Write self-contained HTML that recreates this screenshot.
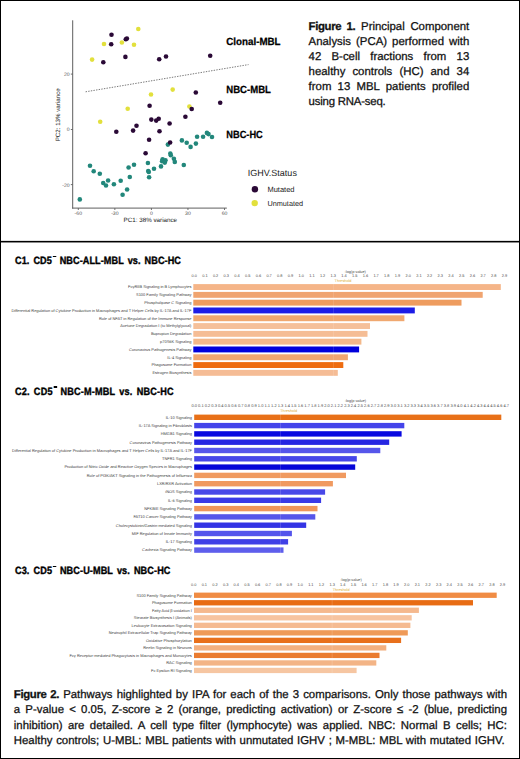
<!DOCTYPE html>
<html><head><meta charset="utf-8"><style>
*{margin:0;padding:0;box-sizing:border-box}
html,body{width:520px;height:759px;background:#fff;overflow:hidden}
body{position:relative;font-family:"Liberation Sans", sans-serif;color:#111;text-rendering:geometricPrecision}
.abs{position:absolute}
svg text{font-family:"Liberation Sans", sans-serif;text-rendering:geometricPrecision}
.frame{position:absolute;left:0;top:0;width:520px;height:759px;border:1px solid #000}
.sep{position:absolute;left:0;top:240px;width:520px;height:3px;background:linear-gradient(#e0e0e0 0,#e0e0e0 1px,#000 1px,#000 2px,#8a8a8a 2px,#8a8a8a 3px)}
.para{position:absolute;font-size:11.4px;line-height:15.1px;color:#111;-webkit-text-stroke:0.28px #111}
.para .l{display:block;text-align:justify;text-align-last:justify;white-space:normal}
.para .l.last{text-align-last:left}
.para b{font-size:11.4px;letter-spacing:-0.35px}
.hd{position:absolute;left:14.8px;font-size:10.6px;font-weight:bold;line-height:12px;white-space:nowrap;color:#000;-webkit-text-stroke:0.4px #000;word-spacing:1.6px;transform:scaleX(0.86);transform-origin:0 0}
.hd .m{display:inline-block;width:3.6px;height:1.3px;background:#000;vertical-align:top;margin:0.2px 4.4px 0 1.1px}
</style></head>
<body>
<svg class="abs" style="left:0;top:0" width="520" height="240" viewBox="0 0 520 240">
<line x1="72.7" y1="20.3" x2="72.7" y2="208.6" stroke="#5e5e5e" stroke-width="1"/>
<line x1="72.2" y1="208.1" x2="226.8" y2="208.1" stroke="#5e5e5e" stroke-width="1"/>
<line x1="70.8" y1="74.1" x2="72.7" y2="74.1" stroke="#5e5e5e" stroke-width="0.9"/>
<text x="69.6" y="76.0" font-size="5.1" fill="#555" text-anchor="end">20</text>
<line x1="70.8" y1="129.5" x2="72.7" y2="129.5" stroke="#5e5e5e" stroke-width="0.9"/>
<text x="69.6" y="131.4" font-size="5.1" fill="#555" text-anchor="end">0</text>
<line x1="70.8" y1="184.6" x2="72.7" y2="184.6" stroke="#5e5e5e" stroke-width="0.9"/>
<text x="69.6" y="186.5" font-size="5.1" fill="#555" text-anchor="end">-20</text>
<line x1="78.3" y1="208.1" x2="78.3" y2="210.0" stroke="#5e5e5e" stroke-width="0.9"/>
<text x="78.3" y="215.20000000000002" font-size="5.1" fill="#555" text-anchor="middle">-60</text>
<line x1="114.85" y1="208.1" x2="114.85" y2="210.0" stroke="#5e5e5e" stroke-width="0.9"/>
<text x="114.85" y="215.20000000000002" font-size="5.1" fill="#555" text-anchor="middle">-30</text>
<line x1="151.4" y1="208.1" x2="151.4" y2="210.0" stroke="#5e5e5e" stroke-width="0.9"/>
<text x="151.4" y="215.20000000000002" font-size="5.1" fill="#555" text-anchor="middle">0</text>
<line x1="187.95" y1="208.1" x2="187.95" y2="210.0" stroke="#5e5e5e" stroke-width="0.9"/>
<text x="187.95" y="215.20000000000002" font-size="5.1" fill="#555" text-anchor="middle">30</text>
<line x1="224.5" y1="208.1" x2="224.5" y2="210.0" stroke="#5e5e5e" stroke-width="0.9"/>
<text x="224.5" y="215.20000000000002" font-size="5.1" fill="#555" text-anchor="middle">60</text>
<text x="123.6" y="222.2" font-size="6.25" fill="#1a1a1a">PC1: 38% variance</text>
<text transform="translate(60.0,141.3) rotate(-90)" x="0" y="0" font-size="6.2" fill="#222">PC2: 13% variance</text>
<line x1="85.6" y1="91.8" x2="248.5" y2="64.6" stroke="#6a6a6a" stroke-width="0.9" stroke-dasharray="1.4 1.25"/>
<circle cx="90" cy="165.7" r="2.3" fill="#22877b"/>
<circle cx="93.7" cy="171.3" r="2.3" fill="#22877b"/>
<circle cx="99.8" cy="173.7" r="2.3" fill="#22877b"/>
<circle cx="103.2" cy="183" r="2.3" fill="#22877b"/>
<circle cx="106" cy="185.5" r="2.3" fill="#22877b"/>
<circle cx="108.1" cy="180.5" r="2.3" fill="#22877b"/>
<circle cx="113.9" cy="184.2" r="2.3" fill="#22877b"/>
<circle cx="120.7" cy="180.8" r="2.3" fill="#22877b"/>
<circle cx="128.6" cy="167.5" r="2.3" fill="#22877b"/>
<circle cx="134" cy="164.7" r="2.3" fill="#22877b"/>
<circle cx="129.8" cy="177" r="2.3" fill="#22877b"/>
<circle cx="127.1" cy="189.5" r="2.3" fill="#22877b"/>
<circle cx="122.6" cy="194.7" r="2.3" fill="#22877b"/>
<circle cx="79.8" cy="199.4" r="2.3" fill="#22877b"/>
<circle cx="147.9" cy="163" r="2.3" fill="#22877b"/>
<circle cx="148.2" cy="171" r="2.3" fill="#22877b"/>
<circle cx="148.8" cy="172" r="2.3" fill="#22877b"/>
<circle cx="154" cy="168.7" r="2.3" fill="#22877b"/>
<circle cx="149.1" cy="177.2" r="2.3" fill="#22877b"/>
<circle cx="161" cy="166.4" r="2.3" fill="#22877b"/>
<circle cx="162.6" cy="159.2" r="2.3" fill="#22877b"/>
<circle cx="165.5" cy="160.2" r="2.3" fill="#22877b"/>
<circle cx="162.1" cy="161.3" r="2.3" fill="#22877b"/>
<circle cx="164.8" cy="162.6" r="2.3" fill="#22877b"/>
<circle cx="170.3" cy="153.5" r="2.3" fill="#22877b"/>
<circle cx="170.8" cy="155.2" r="2.3" fill="#22877b"/>
<circle cx="173.9" cy="158.8" r="2.3" fill="#22877b"/>
<circle cx="174.8" cy="161.9" r="2.3" fill="#22877b"/>
<circle cx="183.8" cy="165" r="2.3" fill="#22877b"/>
<circle cx="167.9" cy="144.6" r="2.3" fill="#22877b"/>
<circle cx="181.9" cy="140.4" r="2.3" fill="#22877b"/>
<circle cx="186.7" cy="142.8" r="2.3" fill="#22877b"/>
<circle cx="190.6" cy="146.9" r="2.3" fill="#22877b"/>
<circle cx="195.9" cy="143.6" r="2.3" fill="#22877b"/>
<circle cx="197.1" cy="136.8" r="2.3" fill="#22877b"/>
<circle cx="203.1" cy="136.8" r="2.3" fill="#22877b"/>
<circle cx="206.9" cy="132.9" r="2.3" fill="#22877b"/>
<circle cx="208.5" cy="134.1" r="2.3" fill="#22877b"/>
<circle cx="212" cy="137" r="2.3" fill="#22877b"/>
<circle cx="138.3" cy="29" r="2.3" fill="#e2e03c"/>
<circle cx="104" cy="44" r="2.3" fill="#e2e03c"/>
<circle cx="121.9" cy="42.5" r="2.3" fill="#e2e03c"/>
<circle cx="134" cy="44.8" r="2.3" fill="#e2e03c"/>
<circle cx="92.1" cy="59.6" r="2.3" fill="#e2e03c"/>
<circle cx="151" cy="94.5" r="2.3" fill="#e2e03c"/>
<circle cx="172.7" cy="89.6" r="2.3" fill="#e2e03c"/>
<circle cx="127.7" cy="108.8" r="2.3" fill="#e2e03c"/>
<circle cx="189.4" cy="106.5" r="2.3" fill="#e2e03c"/>
<circle cx="100.2" cy="121.7" r="2.3" fill="#e2e03c"/>
<circle cx="111.5" cy="34.8" r="2.3" fill="#2a0936"/>
<circle cx="126.9" cy="38.5" r="2.3" fill="#2a0936"/>
<circle cx="125.8" cy="39.2" r="2.3" fill="#2a0936"/>
<circle cx="111.2" cy="44.2" r="2.3" fill="#2a0936"/>
<circle cx="103.3" cy="62.3" r="2.3" fill="#2a0936"/>
<circle cx="125.4" cy="56.9" r="2.3" fill="#2a0936"/>
<circle cx="159.2" cy="59.2" r="2.3" fill="#2a0936"/>
<circle cx="166" cy="56.5" r="2.3" fill="#2a0936"/>
<circle cx="210.2" cy="55.8" r="2.3" fill="#2a0936"/>
<circle cx="195.8" cy="92.5" r="2.3" fill="#2a0936"/>
<circle cx="220.2" cy="102.7" r="2.3" fill="#2a0936"/>
<circle cx="191.7" cy="109" r="2.3" fill="#2a0936"/>
<circle cx="149.6" cy="105.8" r="2.3" fill="#2a0936"/>
<circle cx="185.4" cy="116.7" r="2.3" fill="#2a0936"/>
<circle cx="151.3" cy="119.6" r="2.3" fill="#2a0936"/>
<circle cx="156.2" cy="120.6" r="2.3" fill="#2a0936"/>
<circle cx="158.7" cy="118.8" r="2.3" fill="#2a0936"/>
<circle cx="136.5" cy="125.8" r="2.3" fill="#2a0936"/>
<circle cx="133.1" cy="130.6" r="2.3" fill="#2a0936"/>
<circle cx="116.3" cy="131.7" r="2.3" fill="#2a0936"/>
<circle cx="159.5" cy="131.3" r="2.3" fill="#2a0936"/>
<circle cx="149.1" cy="139.8" r="2.3" fill="#2a0936"/>
<circle cx="169.6" cy="123.5" r="2.3" fill="#2a0936"/>
<circle cx="170.1" cy="142.5" r="2.3" fill="#2a0936"/>
<circle cx="145.6" cy="153.3" r="2.3" fill="#2a0936"/>
<text x="226.3" y="44.9" font-size="10.4" font-weight="bold" fill="#000" stroke="#000" stroke-width="0.25" textLength="54.3" lengthAdjust="spacingAndGlyphs">Clonal-MBL</text>
<text x="226.3" y="93.2" font-size="10.4" font-weight="bold" fill="#000" stroke="#000" stroke-width="0.25" textLength="44.6" lengthAdjust="spacingAndGlyphs">NBC-MBL</text>
<text x="226.3" y="138.1" font-size="10.4" font-weight="bold" fill="#000" stroke="#000" stroke-width="0.25" textLength="36.5" lengthAdjust="spacingAndGlyphs">NBC-HC</text>
<text x="247.7" y="176.2" font-size="9" fill="#222">IGHV.Status</text>
<circle cx="254.9" cy="189.2" r="3.2" fill="#2a0936"/>
<circle cx="254.7" cy="203.1" r="3.2" fill="#e2e03c"/>
<text x="267.4" y="191.8" font-size="7.5" fill="#222">Mutated</text>
<text x="267.4" y="205.8" font-size="7.3" fill="#222">Unmutated</text>
</svg>
<div class="para" style="left:308.6px;top:20.0px;width:160.7px">
<span class="l"><b>Figure 1.</b> Principal Component</span>
<span class="l">Analysis (PCA) performed with</span>
<span class="l">42 B-cell fractions from 13</span>
<span class="l">healthy controls (HC) and 34</span>
<span class="l">from 13 MBL patients profiled</span>
<span class="l last" style="letter-spacing:-0.2px">using RNA-seq.</span>
</div>
<div class="sep"></div>
<div class="hd" style="top:255.4px;letter-spacing:0.095px">C1. CD5<span class="m"></span>NBC-ALL-MBL vs. NBC-HC</div>
<div class="hd" style="top:386.3px;letter-spacing:0.226px">C2. CD5<span class="m"></span>NBC-M-MBL vs. NBC-HC</div>
<div class="hd" style="top:565.4px;letter-spacing:0.13px">C3. CD5<span class="m"></span>NBC-U-MBL vs. NBC-HC</div>
<svg class="abs" style="left:0;top:0" width="520" height="759" viewBox="0 0 520 759">
<text x="194.20" y="277.30" font-size="3.9" fill="#4a4a4a" text-anchor="middle">0.0</text>
<text x="204.90" y="277.30" font-size="3.9" fill="#4a4a4a" text-anchor="middle">0.1</text>
<text x="215.60" y="277.30" font-size="3.9" fill="#4a4a4a" text-anchor="middle">0.2</text>
<text x="226.30" y="277.30" font-size="3.9" fill="#4a4a4a" text-anchor="middle">0.3</text>
<text x="237.00" y="277.30" font-size="3.9" fill="#4a4a4a" text-anchor="middle">0.4</text>
<text x="247.70" y="277.30" font-size="3.9" fill="#4a4a4a" text-anchor="middle">0.5</text>
<text x="258.40" y="277.30" font-size="3.9" fill="#4a4a4a" text-anchor="middle">0.6</text>
<text x="269.10" y="277.30" font-size="3.9" fill="#4a4a4a" text-anchor="middle">0.7</text>
<text x="279.80" y="277.30" font-size="3.9" fill="#4a4a4a" text-anchor="middle">0.8</text>
<text x="290.50" y="277.30" font-size="3.9" fill="#4a4a4a" text-anchor="middle">0.9</text>
<text x="301.20" y="277.30" font-size="3.9" fill="#4a4a4a" text-anchor="middle">1.0</text>
<text x="311.90" y="277.30" font-size="3.9" fill="#4a4a4a" text-anchor="middle">1.1</text>
<text x="322.60" y="277.30" font-size="3.9" fill="#4a4a4a" text-anchor="middle">1.2</text>
<text x="333.30" y="277.30" font-size="3.9" fill="#4a4a4a" text-anchor="middle">1.3</text>
<text x="344.00" y="277.30" font-size="3.9" fill="#4a4a4a" text-anchor="middle">1.4</text>
<text x="354.70" y="277.30" font-size="3.9" fill="#4a4a4a" text-anchor="middle">1.5</text>
<text x="365.40" y="277.30" font-size="3.9" fill="#4a4a4a" text-anchor="middle">1.6</text>
<text x="376.10" y="277.30" font-size="3.9" fill="#4a4a4a" text-anchor="middle">1.7</text>
<text x="386.80" y="277.30" font-size="3.9" fill="#4a4a4a" text-anchor="middle">1.8</text>
<text x="397.50" y="277.30" font-size="3.9" fill="#4a4a4a" text-anchor="middle">1.9</text>
<text x="408.20" y="277.30" font-size="3.9" fill="#4a4a4a" text-anchor="middle">2.0</text>
<text x="418.90" y="277.30" font-size="3.9" fill="#4a4a4a" text-anchor="middle">2.1</text>
<text x="429.60" y="277.30" font-size="3.9" fill="#4a4a4a" text-anchor="middle">2.2</text>
<text x="440.30" y="277.30" font-size="3.9" fill="#4a4a4a" text-anchor="middle">2.3</text>
<text x="451.00" y="277.30" font-size="3.9" fill="#4a4a4a" text-anchor="middle">2.4</text>
<text x="461.70" y="277.30" font-size="3.9" fill="#4a4a4a" text-anchor="middle">2.5</text>
<text x="472.40" y="277.30" font-size="3.9" fill="#4a4a4a" text-anchor="middle">2.6</text>
<text x="483.10" y="277.30" font-size="3.9" fill="#4a4a4a" text-anchor="middle">2.7</text>
<text x="493.80" y="277.30" font-size="3.9" fill="#4a4a4a" text-anchor="middle">2.8</text>
<text x="504.50" y="277.30" font-size="3.9" fill="#4a4a4a" text-anchor="middle">2.9</text>
<text x="355.2" y="272.8" font-size="3.8" fill="#444" text-anchor="middle">-log(p-value)</text>
<text x="334.6" y="282.1" font-size="3.8" fill="#dcb040">Threshold</text>
<rect x="193.3" y="284.10" width="307.50" height="5.9" fill="#f5b588"/>
<text x="191.4" y="288.40" font-size="3.95" fill="#3a3a3a" text-anchor="end">FcγRIIB Signaling in B Lymphocytes</text>
<rect x="193.3" y="291.90" width="289.40" height="5.9" fill="#f0a470"/>
<text x="191.4" y="296.20" font-size="3.95" fill="#3a3a3a" text-anchor="end">S100 Family Signaling Pathway</text>
<rect x="193.3" y="299.70" width="268.20" height="5.9" fill="#ee9c5f"/>
<text x="191.4" y="304.00" font-size="3.95" fill="#3a3a3a" text-anchor="end">Phospholipase C Signaling</text>
<rect x="193.3" y="307.50" width="221.50" height="5.9" fill="#1c1ce6"/>
<text x="191.4" y="311.80" font-size="3.95" fill="#3a3a3a" text-anchor="end">Differential Regulation of Cytokine Production in Macrophages and T Helper Cells by IL-17A and IL-17F</text>
<rect x="193.3" y="315.30" width="211.10" height="5.9" fill="#f0a870"/>
<text x="191.4" y="319.60" font-size="3.95" fill="#3a3a3a" text-anchor="end">Role of NFAT in Regulation of the Immune Response</text>
<rect x="193.3" y="323.10" width="176.70" height="5.9" fill="#f5c09a"/>
<text x="191.4" y="327.40" font-size="3.95" fill="#3a3a3a" text-anchor="end">Acetone Degradation I (to Methylglyoxal)</text>
<rect x="193.3" y="330.90" width="174.20" height="5.9" fill="#f5bd95"/>
<text x="191.4" y="335.20" font-size="3.95" fill="#3a3a3a" text-anchor="end">Bupropion Degradation</text>
<rect x="193.3" y="338.70" width="168.10" height="5.9" fill="#f3b88a"/>
<text x="191.4" y="343.00" font-size="3.95" fill="#3a3a3a" text-anchor="end">p70S6K Signaling</text>
<rect x="193.3" y="346.50" width="165.80" height="5.9" fill="#0000dc"/>
<text x="191.4" y="350.80" font-size="3.95" fill="#3a3a3a" text-anchor="end">Coronavirus Pathogenesis Pathway</text>
<rect x="193.3" y="354.30" width="154.60" height="5.9" fill="#f0a672"/>
<text x="191.4" y="358.60" font-size="3.95" fill="#3a3a3a" text-anchor="end">IL-4 Signaling</text>
<rect x="193.3" y="362.10" width="150.00" height="5.9" fill="#ee6c10"/>
<text x="191.4" y="366.40" font-size="3.95" fill="#3a3a3a" text-anchor="end">Phagosome Formation</text>
<rect x="193.3" y="369.90" width="144.50" height="5.9" fill="#f5bc95"/>
<text x="191.4" y="374.20" font-size="3.95" fill="#3a3a3a" text-anchor="end">Estrogen Biosynthesis</text>
<line x1="333.30" y1="281.1" x2="333.30" y2="377.70000000000005" stroke="#ffffff" stroke-width="0.6" opacity="0.25"/>
<text x="194.20" y="406.60" font-size="4.0" fill="#4a4a4a" text-anchor="middle">0.0</text>
<text x="200.84" y="406.60" font-size="4.0" fill="#4a4a4a" text-anchor="middle">0.1</text>
<text x="207.48" y="406.60" font-size="4.0" fill="#4a4a4a" text-anchor="middle">0.2</text>
<text x="214.12" y="406.60" font-size="4.0" fill="#4a4a4a" text-anchor="middle">0.3</text>
<text x="220.76" y="406.60" font-size="4.0" fill="#4a4a4a" text-anchor="middle">0.4</text>
<text x="227.40" y="406.60" font-size="4.0" fill="#4a4a4a" text-anchor="middle">0.5</text>
<text x="234.04" y="406.60" font-size="4.0" fill="#4a4a4a" text-anchor="middle">0.6</text>
<text x="240.68" y="406.60" font-size="4.0" fill="#4a4a4a" text-anchor="middle">0.7</text>
<text x="247.32" y="406.60" font-size="4.0" fill="#4a4a4a" text-anchor="middle">0.8</text>
<text x="253.96" y="406.60" font-size="4.0" fill="#4a4a4a" text-anchor="middle">0.9</text>
<text x="260.60" y="406.60" font-size="4.0" fill="#4a4a4a" text-anchor="middle">1.0</text>
<text x="267.24" y="406.60" font-size="4.0" fill="#4a4a4a" text-anchor="middle">1.1</text>
<text x="273.88" y="406.60" font-size="4.0" fill="#4a4a4a" text-anchor="middle">1.2</text>
<text x="280.52" y="406.60" font-size="4.0" fill="#4a4a4a" text-anchor="middle">1.3</text>
<text x="287.16" y="406.60" font-size="4.0" fill="#4a4a4a" text-anchor="middle">1.4</text>
<text x="293.80" y="406.60" font-size="4.0" fill="#4a4a4a" text-anchor="middle">1.5</text>
<text x="300.44" y="406.60" font-size="4.0" fill="#4a4a4a" text-anchor="middle">1.6</text>
<text x="307.08" y="406.60" font-size="4.0" fill="#4a4a4a" text-anchor="middle">1.7</text>
<text x="313.72" y="406.60" font-size="4.0" fill="#4a4a4a" text-anchor="middle">1.8</text>
<text x="320.36" y="406.60" font-size="4.0" fill="#4a4a4a" text-anchor="middle">1.9</text>
<text x="327.00" y="406.60" font-size="4.0" fill="#4a4a4a" text-anchor="middle">2.0</text>
<text x="333.64" y="406.60" font-size="4.0" fill="#4a4a4a" text-anchor="middle">2.1</text>
<text x="340.28" y="406.60" font-size="4.0" fill="#4a4a4a" text-anchor="middle">2.2</text>
<text x="346.92" y="406.60" font-size="4.0" fill="#4a4a4a" text-anchor="middle">2.3</text>
<text x="353.56" y="406.60" font-size="4.0" fill="#4a4a4a" text-anchor="middle">2.4</text>
<text x="360.20" y="406.60" font-size="4.0" fill="#4a4a4a" text-anchor="middle">2.5</text>
<text x="366.84" y="406.60" font-size="4.0" fill="#4a4a4a" text-anchor="middle">2.6</text>
<text x="373.48" y="406.60" font-size="4.0" fill="#4a4a4a" text-anchor="middle">2.7</text>
<text x="380.12" y="406.60" font-size="4.0" fill="#4a4a4a" text-anchor="middle">2.8</text>
<text x="386.76" y="406.60" font-size="4.0" fill="#4a4a4a" text-anchor="middle">2.9</text>
<text x="393.40" y="406.60" font-size="4.0" fill="#4a4a4a" text-anchor="middle">3.0</text>
<text x="400.04" y="406.60" font-size="4.0" fill="#4a4a4a" text-anchor="middle">3.1</text>
<text x="406.68" y="406.60" font-size="4.0" fill="#4a4a4a" text-anchor="middle">3.2</text>
<text x="413.32" y="406.60" font-size="4.0" fill="#4a4a4a" text-anchor="middle">3.3</text>
<text x="419.96" y="406.60" font-size="4.0" fill="#4a4a4a" text-anchor="middle">3.4</text>
<text x="426.60" y="406.60" font-size="4.0" fill="#4a4a4a" text-anchor="middle">3.5</text>
<text x="433.24" y="406.60" font-size="4.0" fill="#4a4a4a" text-anchor="middle">3.6</text>
<text x="439.88" y="406.60" font-size="4.0" fill="#4a4a4a" text-anchor="middle">3.7</text>
<text x="446.52" y="406.60" font-size="4.0" fill="#4a4a4a" text-anchor="middle">3.8</text>
<text x="453.16" y="406.60" font-size="4.0" fill="#4a4a4a" text-anchor="middle">3.9</text>
<text x="459.80" y="406.60" font-size="4.0" fill="#4a4a4a" text-anchor="middle">4.0</text>
<text x="466.44" y="406.60" font-size="4.0" fill="#4a4a4a" text-anchor="middle">4.1</text>
<text x="473.08" y="406.60" font-size="4.0" fill="#4a4a4a" text-anchor="middle">4.2</text>
<text x="479.72" y="406.60" font-size="4.0" fill="#4a4a4a" text-anchor="middle">4.3</text>
<text x="486.36" y="406.60" font-size="4.0" fill="#4a4a4a" text-anchor="middle">4.4</text>
<text x="493.00" y="406.60" font-size="4.0" fill="#4a4a4a" text-anchor="middle">4.5</text>
<text x="499.64" y="406.60" font-size="4.0" fill="#4a4a4a" text-anchor="middle">4.6</text>
<text x="506.28" y="406.60" font-size="4.0" fill="#4a4a4a" text-anchor="middle">4.7</text>
<text x="355.4" y="401.90000000000003" font-size="3.8" fill="#444" text-anchor="middle">-log(p-value)</text>
<text x="280.3" y="412.1" font-size="3.8" fill="#dcb040">Threshold</text>
<rect x="194.2" y="414.60" width="307.10" height="5.4" fill="#e87018"/>
<text x="192.0" y="418.65" font-size="3.95" fill="#3a3a3a" text-anchor="end">IL-10 Signaling</text>
<rect x="194.2" y="422.90" width="210.10" height="5.4" fill="#4444ea"/>
<text x="192.0" y="426.95" font-size="3.95" fill="#3a3a3a" text-anchor="end">IL-17A Signaling in Fibroblasts</text>
<rect x="194.2" y="431.20" width="207.40" height="5.4" fill="#0808e0"/>
<text x="192.0" y="435.25" font-size="3.95" fill="#3a3a3a" text-anchor="end">HMGB1 Signaling</text>
<rect x="194.2" y="439.50" width="195.00" height="5.4" fill="#2626e2"/>
<text x="192.0" y="443.55" font-size="3.95" fill="#3a3a3a" text-anchor="end">Coronavirus Pathogenesis Pathway</text>
<rect x="194.2" y="447.80" width="186.10" height="5.4" fill="#5656ea"/>
<text x="192.0" y="451.85" font-size="3.95" fill="#3a3a3a" text-anchor="end">Differential Regulation of Cytokine Production in Macrophages and T Helper Cells by IL-17A and IL-17F</text>
<rect x="194.2" y="456.10" width="162.60" height="5.4" fill="#4646e8"/>
<text x="192.0" y="460.15" font-size="3.95" fill="#3a3a3a" text-anchor="end">TNFR1 Signaling</text>
<rect x="194.2" y="464.40" width="161.00" height="5.4" fill="#0606d8"/>
<text x="192.0" y="468.45" font-size="3.95" fill="#3a3a3a" text-anchor="end">Production of Nitric Oxide and Reactive Oxygen Species in Macrophages</text>
<rect x="194.2" y="472.70" width="151.80" height="5.4" fill="#f09a60"/>
<text x="192.0" y="476.75" font-size="3.95" fill="#3a3a3a" text-anchor="end">Role of PI3K/AKT Signaling in the Pathogenesis of Influenza</text>
<rect x="194.2" y="481.00" width="138.70" height="5.4" fill="#f09a60"/>
<text x="192.0" y="485.05" font-size="3.95" fill="#3a3a3a" text-anchor="end">LXR/RXR Activation</text>
<rect x="194.2" y="489.30" width="130.90" height="5.4" fill="#4848e8"/>
<text x="192.0" y="493.35" font-size="3.95" fill="#3a3a3a" text-anchor="end">iNOS Signaling</text>
<rect x="194.2" y="497.60" width="126.90" height="5.4" fill="#3a3ae6"/>
<text x="192.0" y="501.65" font-size="3.95" fill="#3a3a3a" text-anchor="end">IL-6 Signaling</text>
<rect x="194.2" y="505.90" width="123.30" height="5.4" fill="#f0965a"/>
<text x="192.0" y="509.95" font-size="3.95" fill="#3a3a3a" text-anchor="end">NFKBIE Signaling Pathway</text>
<rect x="194.2" y="514.20" width="121.10" height="5.4" fill="#5656ea"/>
<text x="192.0" y="518.25" font-size="3.95" fill="#3a3a3a" text-anchor="end">FAT10 Cancer Signaling Pathway</text>
<rect x="194.2" y="522.50" width="112.00" height="5.4" fill="#3434e4"/>
<text x="192.0" y="526.55" font-size="3.95" fill="#3a3a3a" text-anchor="end">Cholecystokinin/Gastrin-mediated Signaling</text>
<rect x="194.2" y="530.80" width="97.70" height="5.4" fill="#5454ec"/>
<text x="192.0" y="534.85" font-size="3.95" fill="#3a3a3a" text-anchor="end">MIF Regulation of Innate Immunity</text>
<rect x="194.2" y="539.10" width="93.90" height="5.4" fill="#4040e6"/>
<text x="192.0" y="543.15" font-size="3.95" fill="#3a3a3a" text-anchor="end">IL-17 Signaling</text>
<rect x="194.2" y="547.40" width="89.30" height="5.4" fill="#5e5eec"/>
<text x="192.0" y="551.45" font-size="3.95" fill="#3a3a3a" text-anchor="end">Cachexia Signaling Pathway</text>
<line x1="280.52" y1="411.6" x2="280.52" y2="555.7" stroke="#ffffff" stroke-width="0.6" opacity="0.25"/>
<text x="193.70" y="585.50" font-size="3.9" fill="#4a4a4a" text-anchor="middle">0.0</text>
<text x="204.35" y="585.50" font-size="3.9" fill="#4a4a4a" text-anchor="middle">0.1</text>
<text x="215.00" y="585.50" font-size="3.9" fill="#4a4a4a" text-anchor="middle">0.2</text>
<text x="225.65" y="585.50" font-size="3.9" fill="#4a4a4a" text-anchor="middle">0.3</text>
<text x="236.30" y="585.50" font-size="3.9" fill="#4a4a4a" text-anchor="middle">0.4</text>
<text x="246.95" y="585.50" font-size="3.9" fill="#4a4a4a" text-anchor="middle">0.5</text>
<text x="257.60" y="585.50" font-size="3.9" fill="#4a4a4a" text-anchor="middle">0.6</text>
<text x="268.25" y="585.50" font-size="3.9" fill="#4a4a4a" text-anchor="middle">0.7</text>
<text x="278.90" y="585.50" font-size="3.9" fill="#4a4a4a" text-anchor="middle">0.8</text>
<text x="289.55" y="585.50" font-size="3.9" fill="#4a4a4a" text-anchor="middle">0.9</text>
<text x="300.20" y="585.50" font-size="3.9" fill="#4a4a4a" text-anchor="middle">1.0</text>
<text x="310.85" y="585.50" font-size="3.9" fill="#4a4a4a" text-anchor="middle">1.1</text>
<text x="321.50" y="585.50" font-size="3.9" fill="#4a4a4a" text-anchor="middle">1.2</text>
<text x="332.15" y="585.50" font-size="3.9" fill="#4a4a4a" text-anchor="middle">1.3</text>
<text x="342.80" y="585.50" font-size="3.9" fill="#4a4a4a" text-anchor="middle">1.4</text>
<text x="353.45" y="585.50" font-size="3.9" fill="#4a4a4a" text-anchor="middle">1.5</text>
<text x="364.10" y="585.50" font-size="3.9" fill="#4a4a4a" text-anchor="middle">1.6</text>
<text x="374.75" y="585.50" font-size="3.9" fill="#4a4a4a" text-anchor="middle">1.7</text>
<text x="385.40" y="585.50" font-size="3.9" fill="#4a4a4a" text-anchor="middle">1.8</text>
<text x="396.05" y="585.50" font-size="3.9" fill="#4a4a4a" text-anchor="middle">1.9</text>
<text x="406.70" y="585.50" font-size="3.9" fill="#4a4a4a" text-anchor="middle">2.0</text>
<text x="417.35" y="585.50" font-size="3.9" fill="#4a4a4a" text-anchor="middle">2.1</text>
<text x="428.00" y="585.50" font-size="3.9" fill="#4a4a4a" text-anchor="middle">2.2</text>
<text x="438.65" y="585.50" font-size="3.9" fill="#4a4a4a" text-anchor="middle">2.3</text>
<text x="449.30" y="585.50" font-size="3.9" fill="#4a4a4a" text-anchor="middle">2.4</text>
<text x="459.95" y="585.50" font-size="3.9" fill="#4a4a4a" text-anchor="middle">2.5</text>
<text x="470.60" y="585.50" font-size="3.9" fill="#4a4a4a" text-anchor="middle">2.6</text>
<text x="481.25" y="585.50" font-size="3.9" fill="#4a4a4a" text-anchor="middle">2.7</text>
<text x="491.90" y="585.50" font-size="3.9" fill="#4a4a4a" text-anchor="middle">2.8</text>
<text x="502.55" y="585.50" font-size="3.9" fill="#4a4a4a" text-anchor="middle">2.9</text>
<text x="351.0" y="580.5" font-size="3.8" fill="#444" text-anchor="middle">-log(p-value)</text>
<text x="332.7" y="590.5" font-size="3.8" fill="#dcb040">Threshold</text>
<rect x="194.0" y="592.60" width="302.70" height="5.3" fill="#f08c44"/>
<text x="191.8" y="596.60" font-size="3.95" fill="#3a3a3a" text-anchor="end">S100 Family Signaling Pathway</text>
<rect x="194.0" y="600.12" width="279.00" height="5.3" fill="#e86c14"/>
<text x="191.8" y="604.12" font-size="3.95" fill="#3a3a3a" text-anchor="end">Phagosome Formation</text>
<rect x="194.0" y="607.64" width="224.90" height="5.3" fill="#f5b98e"/>
<text x="191.8" y="611.64" font-size="3.95" fill="#3a3a3a" text-anchor="end">Fatty Acid β-oxidation I</text>
<rect x="194.0" y="615.16" width="217.70" height="5.3" fill="#f7c4a0"/>
<text x="191.8" y="619.16" font-size="3.95" fill="#3a3a3a" text-anchor="end">Stearate Biosynthesis I (Animals)</text>
<rect x="194.0" y="622.68" width="216.40" height="5.3" fill="#f5bb92"/>
<text x="191.8" y="626.68" font-size="3.95" fill="#3a3a3a" text-anchor="end">Leukocyte Extravasation Signaling</text>
<rect x="194.0" y="630.20" width="213.80" height="5.3" fill="#ef9a58"/>
<text x="191.8" y="634.20" font-size="3.95" fill="#3a3a3a" text-anchor="end">Neutrophil Extracellular Trap Signaling Pathway</text>
<rect x="194.0" y="637.72" width="207.10" height="5.3" fill="#e8701c"/>
<text x="191.8" y="641.72" font-size="3.95" fill="#3a3a3a" text-anchor="end">Oxidative Phosphorylation</text>
<rect x="194.0" y="645.24" width="192.30" height="5.3" fill="#f3b080"/>
<text x="191.8" y="649.24" font-size="3.95" fill="#3a3a3a" text-anchor="end">Reelin Signaling in Neurons</text>
<rect x="194.0" y="652.76" width="185.50" height="5.3" fill="#ea7c30"/>
<text x="191.8" y="656.76" font-size="3.95" fill="#3a3a3a" text-anchor="end">Fcγ Receptor-mediated Phagocytosis in Macrophages and Monocytes</text>
<rect x="194.0" y="660.28" width="182.30" height="5.3" fill="#f3b486"/>
<text x="191.8" y="664.28" font-size="3.95" fill="#3a3a3a" text-anchor="end">RAC Signaling</text>
<rect x="194.0" y="667.80" width="162.60" height="5.3" fill="#f6c6a2"/>
<text x="191.8" y="671.80" font-size="3.95" fill="#3a3a3a" text-anchor="end">Fc Epsilon RI Signaling</text>
<line x1="332.15" y1="589.6" x2="332.15" y2="675.32" stroke="#ffffff" stroke-width="0.6" opacity="0.25"/>
</svg>
<div class="para" style="left:13.8px;top:688.9px;width:493.2px;line-height:15.03px">
<span class="l" style="position:relative;top:-0.8px"><b>Figure 2.</b> Pathways highlighted by IPA for each of the 3 comparisons. Only those pathways with</span>
<span class="l" style="position:relative;top:-0.5px">a P-value &lt; 0.05, Z-score ≥ 2 (orange, predicting activation) or Z-score ≤ -2 (blue, predicting</span>
<span class="l">inhibition) are detailed. A cell type filter (lymphocyte) was applied. NBC: Normal B cells; HC:</span>
<span class="l" style="width:490.9px">Healthy controls; U-MBL: MBL patients with unmutated IGHV ; M-MBL: MBL with mutated IGHV.</span>
</div>
<div class="frame"></div>
</body></html>
